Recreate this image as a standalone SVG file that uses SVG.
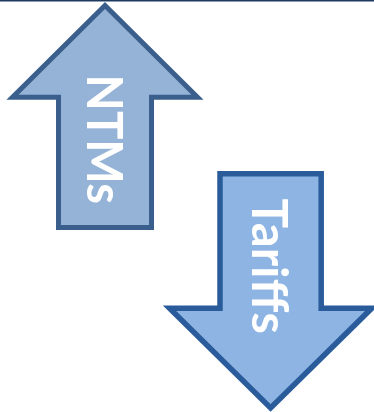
<svg xmlns="http://www.w3.org/2000/svg" width="374" height="412" viewBox="0 0 374 412">
<style>
.lbl{font-family:Lato,"Open Sans","Liberation Sans",sans-serif;font-weight:bold;font-size:49px;fill:#FFFFFF}
.up{fill:#95B3D7;stroke:#3B5F8D;stroke-width:5;stroke-linejoin:miter;stroke-miterlimit:10}
.down{fill:#8DB4E2;stroke:#2A5C9C;stroke-width:5.5;stroke-linejoin:miter;stroke-miterlimit:10}
</style>
<rect width="374" height="412" fill="#FFFFFF"/>
<rect id="top-rule" x="0" y="0" width="374" height="1.5" fill="#1F3A60"/>
<g id="ntms">
<polygon class="up" points="105,5.5 197.5,97.3 151.5,97.3 151.5,227.5 58.5,227.5 58.5,97.3 12.5,97.3"/>
<text class="lbl" transform="translate(87.3,74.5) rotate(90)" x="0" y="0" textLength="129.5" lengthAdjust="spacingAndGlyphs">NTMs</text>
</g>
<g id="tariffs">
<polygon class="down" points="220,173.8 321.2,173.8 321.2,308.3 371.7,308.3 270.6,408 169.5,308.3 220,308.3"/>
<text class="lbl" transform="translate(252.3,198.5) rotate(90)" x="0" y="0" textLength="135.5" lengthAdjust="spacingAndGlyphs">Tariffs</text>
</g>
</svg>
